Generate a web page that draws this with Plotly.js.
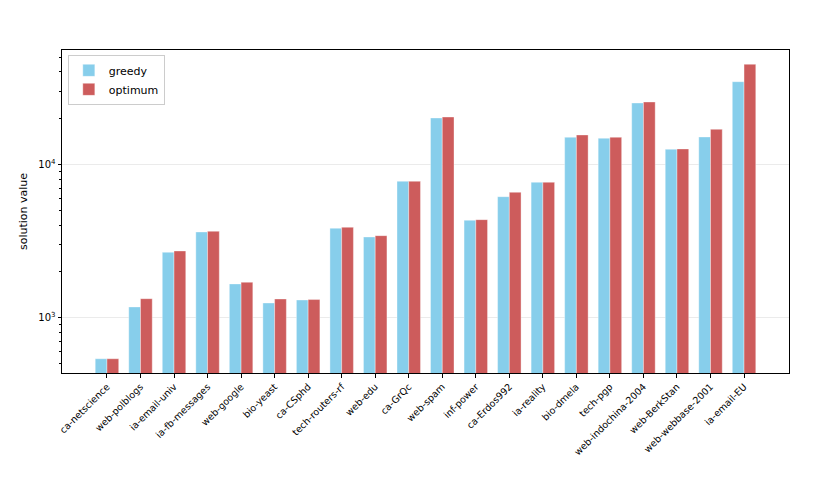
<!DOCTYPE html>
<html>
<head>
<meta charset="utf-8">
<script src="https://cdn.plot.ly/plotly-3.0.1.min.js"></script>
<style>html,body{margin:0;padding:0;background:#fff;}#chart{width:830px;height:498px;}</style>
</head>
<body>
<div id="chart"></div>
<script>
const categories = ["ca-netscience","web-polblogs","ia-email-univ","ia-fb-messages","web-google","bio-yeast","ca-CSphd","tech-routers-rf","web-edu","ca-GrQc","web-spam","inf-power","ca-Erdos992","ia-reality","bio-dmela","tech-pgp","web-indochina-2004","web-BerkStan","web-webbase-2001","ia-email-EU"];
const greedy = [540,1175,2668,3620,1660,1247,1304,3827,3358,7747,20040,4315,6150,7630,15000,14780,25090,12530,15070,34550];
const optimum = [540,1330,2722,3657,1702,1324,1313,3883,3426,7747,20330,4356,6566,7630,15530,15000,25470,12590,16900,44860];
const yTickVals = [1000,10000];
const yTickText = ["10<sup>3</sup>","10<sup>4</sup>"];

const font = {family:"DejaVu Sans, sans-serif", color:"#000"};
const traces = [
  {type:"bar", name:"greedy", x:categories, y:greedy, marker:{color:"#87CEEB", line:{color:"rgba(255,255,255,0.6)", width:0.6}}},
  {type:"bar", name:"optimum", x:categories, y:optimum, marker:{color:"#CD5C5C", line:{color:"rgba(255,255,255,0.6)", width:0.6}}}
];
const layout = {
  width:830, height:498,
  margin:{l:62, r:41, t:50, b:125},
  paper_bgcolor:"#fff", plot_bgcolor:"#fff",
  barmode:"group", bargap:0.3, bargroupgap:0,
  font:Object.assign({size:10}, font),
  showlegend:true,
  legend:{x:0.008, y:0.985, xanchor:"left", yanchor:"top", bgcolor:"rgba(255,255,255,0.8)", bordercolor:"#cccccc", borderwidth:1, font:Object.assign({size:11}, font), tracegroupgap:2},
  xaxis:{
    type:"category", range:[-1.341, 20.341], tickangle:-45,
    tickfont:Object.assign({size:9.5}, font),
    showline:true, linecolor:"#000", linewidth:1, mirror:true,
    ticks:"outside", ticklen:3.5, tickcolor:"#000", showgrid:false, zeroline:false
  },
  yaxis:{
    type:"log", range:[2.6395, 4.745],
    tickvals:yTickVals, ticktext:yTickText,
    tickfont:Object.assign({size:10}, font),
    title:{text:"solution value", font:Object.assign({size:11}, font), standoff:8},
    showline:true, linecolor:"#000", linewidth:1, mirror:true,
    ticks:"outside", ticklen:3.5, tickcolor:"#000",
    showgrid:true, gridcolor:"#ebebeb", gridwidth:1, zeroline:false,
    minor:{ticks:"outside", ticklen:2, tickcolor:"#000", dtick:"D1", showgrid:false}
  }
};
Plotly.newPlot("chart", traces, layout, {displayModeBar:false, staticPlot:true});
</script>
</body>
</html>
